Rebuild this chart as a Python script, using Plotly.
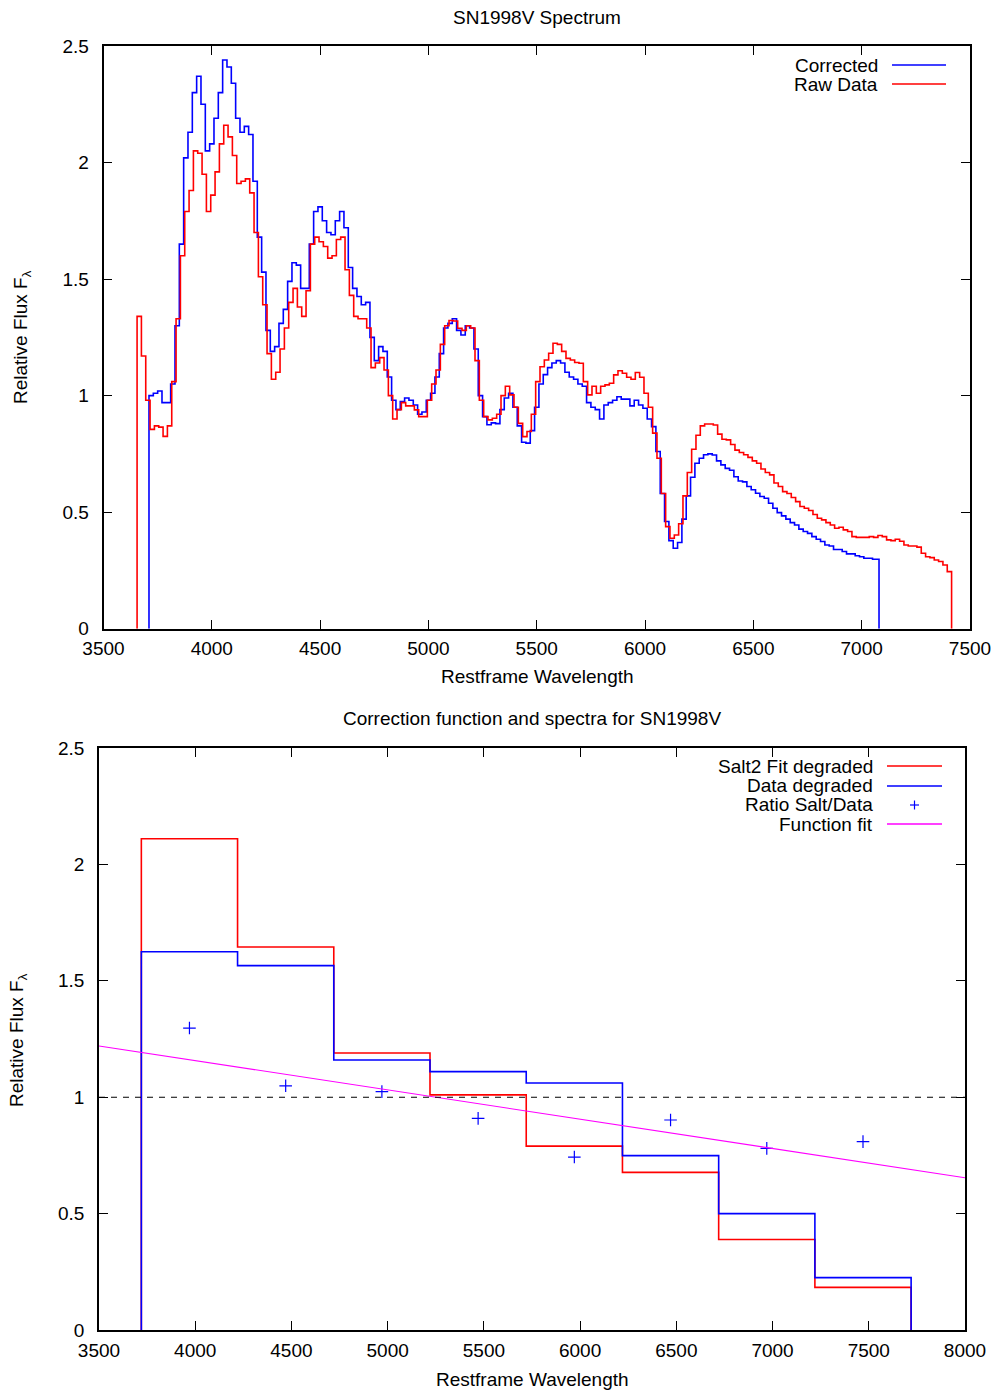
import numpy as np
import plotly.graph_objects as go

# ---------------- Spectrum data (20 A bins) ----------------
CORR_START, CORR_STEP, CORR_END = 3710, 20, 7080
corrected = [
    1.00, 1.01, 1.02, 0.97, 0.97, 1.05, 1.30, 1.65, 2.02, 2.13,
    2.30, 2.37, 2.25, 2.05, 2.08, 2.19, 2.30, 2.44, 2.41, 2.34,
    2.19, 2.13, 2.155, 2.12, 1.92, 1.68, 1.53, 1.28, 1.19, 1.21,
    1.31, 1.37, 1.49, 1.57, 1.56, 1.46, 1.46, 1.65, 1.79, 1.81,
    1.75, 1.70, 1.69, 1.75, 1.79, 1.72, 1.55, 1.46, 1.425, 1.39,
    1.40, 1.25, 1.15, 1.21, 1.19, 1.08, 0.98, 0.94, 0.975, 0.99,
    0.98, 0.96, 0.92, 0.93, 0.98, 1.01, 1.08, 1.18, 1.29, 1.31,
    1.33, 1.28, 1.26, 1.30, 1.29, 1.20, 1.00, 0.91, 0.875, 0.883,
    0.88, 0.94, 0.99, 1.01, 0.95, 0.87, 0.80, 0.796, 0.85, 0.95,
    1.05, 1.09, 1.12, 1.14, 1.15, 1.14, 1.10, 1.08, 1.07, 1.05,
    1.04, 0.97, 0.95, 0.94, 0.90, 0.96, 0.97, 0.98, 0.995, 0.985,
    0.985, 0.956, 0.98, 0.96, 0.946, 0.90, 0.867, 0.76, 0.58, 0.46,
    0.378, 0.345, 0.37, 0.47, 0.57, 0.65, 0.71, 0.731, 0.746, 0.75,
    0.745, 0.72, 0.703, 0.688, 0.68, 0.652, 0.634, 0.63, 0.61, 0.596,
    0.581, 0.567, 0.56, 0.538, 0.517, 0.498, 0.484, 0.47, 0.455, 0.445,
    0.427, 0.417, 0.409, 0.395, 0.384, 0.374, 0.359, 0.355, 0.34, 0.34,
    0.331, 0.321, 0.321, 0.313, 0.309, 0.302, 0.302, 0.298, 0.298,
]

RAW_START, RAW_STEP, RAW_END = 3655, 20, 7415
raw_data = [
    1.34, 1.17, 0.98, 0.855, 0.87, 0.865, 0.825, 0.87, 1.06, 1.33,
    1.60, 1.79, 1.88, 2.05, 2.04, 1.95, 1.79, 1.86, 1.96, 2.08,
    2.16, 2.11, 2.03, 1.91, 1.92, 1.93, 1.87, 1.70, 1.51, 1.39,
    1.18, 1.07, 1.10, 1.20, 1.29, 1.40, 1.46, 1.38, 1.34, 1.45,
    1.65, 1.68, 1.66, 1.64, 1.59, 1.60, 1.67, 1.68, 1.54, 1.43,
    1.34, 1.33, 1.33, 1.29, 1.12, 1.14, 1.163, 1.11, 1.00, 0.90,
    0.94, 0.97, 0.956, 0.956, 0.939, 0.91, 0.91, 0.98, 1.05, 1.11,
    1.22, 1.30, 1.322, 1.32, 1.289, 1.28, 1.30, 1.29, 1.15, 0.98,
    0.91, 0.896, 0.903, 0.92, 1.00, 1.04, 1.003, 0.95, 0.881, 0.824,
    0.846, 0.92, 1.06, 1.124, 1.153, 1.182, 1.225, 1.22, 1.19, 1.16,
    1.153, 1.142, 1.139, 1.06, 1.003, 1.04, 1.01, 1.04, 1.046, 1.053,
    1.089, 1.107, 1.096, 1.079, 1.07, 1.099, 1.079, 1.01, 0.95, 0.839,
    0.731, 0.58, 0.438, 0.388, 0.402, 0.45, 0.57, 0.67, 0.77, 0.83,
    0.87, 0.878, 0.878, 0.874, 0.835, 0.813, 0.81, 0.79, 0.766, 0.756,
    0.746, 0.735, 0.72, 0.71, 0.685, 0.67, 0.66, 0.625, 0.61, 0.588,
    0.58, 0.563, 0.545, 0.524, 0.517, 0.507, 0.49, 0.474, 0.467, 0.455,
    0.445, 0.431, 0.435, 0.424, 0.417, 0.395, 0.392, 0.392, 0.392, 0.395,
    0.392, 0.40, 0.395, 0.381, 0.378, 0.384, 0.375, 0.359, 0.355, 0.355,
    0.35, 0.324, 0.309, 0.305, 0.295, 0.288, 0.273, 0.245,
]

# ---------------- Degraded spectra (500 A bins) ----------------
DEG_START, DEG_STEP, DEG_END = 3720, 500, 7720
salt2_degraded = [2.11, 1.645, 1.19, 1.01, 0.79, 0.677, 0.389, 0.183]
data_degraded = [1.625, 1.565, 1.16, 1.11, 1.061, 0.749, 0.50, 0.225]
ratio_centres = [3970, 4470, 4970, 5470, 5970, 6470, 6970, 7470]
ratio_salt_data = [1.297, 1.049, 1.024, 0.909, 0.743, 0.902, 0.780, 0.809]
fit_x = [3500, 8000]
fit_y = [1.22, 0.654]
unity_x = [3500, 8000]
unity_y = [1.0, 1.0]

W, H = 999, 1393
FONT = "Liberation Sans, Arial, sans-serif"
FS = 19
BLUE, RED, MAGENTA = "#0000ff", "#ff0000", "#ff00ff"


def step_trace(start, step, end, vals):
    edges = start + step * np.arange(len(vals))
    x = [start] + list(edges) + [end]
    y = [0] + list(vals) + [0]
    return x, y


def px(x):
    return x / W


def py(y):
    return 1 - y / H


fig = go.Figure()

# top panel: corrected spectrum under the raw one
x, y = step_trace(CORR_START, CORR_STEP, CORR_END, corrected)
fig.add_trace(go.Scatter(x=x, y=y, mode="lines", line=dict(color=BLUE, width=1.6, shape="hv"),
                         xaxis="x", yaxis="y", showlegend=False))
x, y = step_trace(RAW_START, RAW_STEP, RAW_END, raw_data)
fig.add_trace(go.Scatter(x=x, y=y, mode="lines", line=dict(color=RED, width=1.6, shape="hv"),
                         xaxis="x", yaxis="y", showlegend=False))

# bottom panel
x, y = step_trace(DEG_START, DEG_STEP, DEG_END, salt2_degraded)
fig.add_trace(go.Scatter(x=x, y=y, mode="lines", line=dict(color=RED, width=1.6, shape="hv"),
                         xaxis="x2", yaxis="y2", showlegend=False))
x, y = step_trace(DEG_START, DEG_STEP, DEG_END, data_degraded)
fig.add_trace(go.Scatter(x=x, y=y, mode="lines", line=dict(color=BLUE, width=1.6, shape="hv"),
                         xaxis="x2", yaxis="y2", showlegend=False))
fig.add_trace(go.Scatter(x=ratio_centres, y=ratio_salt_data, mode="markers",
                         marker=dict(symbol="cross-thin", size=9, line=dict(color=BLUE, width=1.2)),
                         xaxis="x2", yaxis="y2", showlegend=False))
fig.add_trace(go.Scatter(x=fit_x, y=fit_y, mode="lines", line=dict(color=MAGENTA, width=1.1),
                         xaxis="x2", yaxis="y2", showlegend=False))
fig.add_trace(go.Scatter(x=unity_x, y=unity_y, mode="lines",
                         line=dict(color="black", width=1.1, dash="6px,6px"),
                         xaxis="x2", yaxis="y2", showlegend=False))

axis_common = dict(showline=True, linecolor="black", linewidth=1.6, mirror="allticks",
                   ticks="inside", ticklen=9, tickwidth=1.4, tickcolor="black",
                   showgrid=False, zeroline=False, automargin=False,
                   tickfont=dict(family=FONT, size=FS, color="black"))

fig.update_layout(
    width=W, height=H,
    margin=dict(l=0, r=0, t=0, b=0, autoexpand=False),
    paper_bgcolor="white", plot_bgcolor="white",
    font=dict(family=FONT, size=FS, color="black"),
    xaxis=dict(domain=[px(103.5), px(970)], range=[3500, 7500], dtick=500, tick0=3500,
               anchor="y", ticklabelstandoff=2, **axis_common),
    yaxis=dict(domain=[py(628.7), py(46)], range=[0, 2.5], dtick=0.5, tick0=0,
               anchor="x", ticklabelstandoff=9, **axis_common),
    xaxis2=dict(domain=[px(99), px(965)], range=[3500, 8000], dtick=500, tick0=3500,
                anchor="y2", ticklabelstandoff=2, **axis_common),
    yaxis2=dict(domain=[py(1330), py(748)], range=[0, 2.5], dtick=0.5, tick0=0,
                anchor="x2", ticklabelstandoff=9, **axis_common),
)

annotations = []
shapes = []


def text(x, y, s, anchor="center", angle=0):
    annotations.append(dict(x=px(x), y=py(y), xref="paper", yref="paper", text=s,
                            showarrow=False, xanchor=anchor, yanchor="middle",
                            textangle=angle, font=dict(family=FONT, size=FS, color="black")))


def sample(x0, x1, y, color):
    shapes.append(dict(type="line", xref="paper", yref="paper", x0=px(x0), x1=px(x1),
                       y0=py(y), y1=py(y), line=dict(color=color, width=1.4)))


# titles and axis labels
text(537, 17, "SN1998V Spectrum")
text(537, 677, "Restframe Wavelength")
text(22, 337, "Relative Flux F<sub>λ</sub>", angle=-90)
text(532, 719, "Correction function and spectra for SN1998V")
text(532, 1379, "Restframe Wavelength")
text(18, 1040, "Relative Flux F<sub>λ</sub>", angle=-90)

# key, top panel
text(880, 65, "Corrected", anchor="right")
sample(892, 946, 65, BLUE)
text(880, 84, "Raw Data", anchor="right")
sample(892, 946, 84, RED)

# key, bottom panel
text(875, 766, "Salt2 Fit degraded", anchor="right")
sample(887, 942, 766, RED)
text(875, 786, "Data degraded", anchor="right")
sample(887, 942, 786, BLUE)
text(875, 805, "Ratio Salt/Data", anchor="right")
shapes.append(dict(type="line", xref="paper", yref="paper", x0=px(910), x1=px(919),
                   y0=py(805), y1=py(805), line=dict(color=BLUE, width=1.2)))
shapes.append(dict(type="line", xref="paper", yref="paper", x0=px(914.5), x1=px(914.5),
                   y0=py(800.5), y1=py(809.5), line=dict(color=BLUE, width=1.2)))
text(875, 824, "Function fit", anchor="right")
sample(887, 942, 824, MAGENTA)

fig.update_layout(annotations=annotations, shapes=shapes)

fig.write_html("out.html")
